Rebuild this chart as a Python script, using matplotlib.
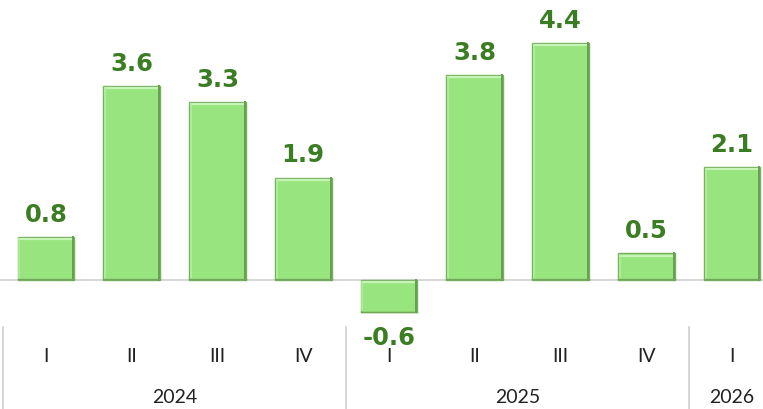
import matplotlib
matplotlib.use("Agg")
import matplotlib.pyplot as plt
from matplotlib.transforms import blended_transform_factory

quarters = ["I", "II", "III", "IV", "I", "II", "III", "IV", "I"]
years = ["2024", "2025", "2026"]
year_sizes = [4, 4, 1]
values = [0.8, 3.6, 3.3, 1.9, -0.6, 3.8, 4.4, 0.5, 2.1]

bar_color = "#98e57f"
edge_color = "#76b060"
label_color = "#3a7d22"

plt.rcParams["font.family"] = ["Lato", "DejaVu Sans"]

fig = plt.figure(figsize=(7.63, 4.10), dpi=100)
ax = fig.add_axes([0, 0, 1, 1])
ax.set_xlim(-0.535, 8.36)
ax.set_ylim(-2.39, 5.21)
ax.axis("off")

x = list(range(len(values)))
bars = ax.bar(x, values, width=0.66, color=bar_color, edgecolor=edge_color,
              linewidth=1.0, zorder=3)
# bevel: light top/left, darker right/bottom
for b in bars:
    x0, x1 = b.get_x(), b.get_x() + b.get_width()
    y0, y1 = sorted([b.get_y(), b.get_y() + b.get_height()])
    ax.plot([x0 + 0.02, x1 - 0.03], [y1 - 0.045, y1 - 0.045], color="#c6f4b6", lw=1.6, zorder=4)
    ax.plot([x0 + 0.02, x0 + 0.02], [y0 + 0.04, y1 - 0.04], color="#b4eea0", lw=1.2, zorder=4)
    ax.plot([x1 - 0.012, x1 - 0.012], [y0, y1], color="#64a04e", lw=1.4, zorder=4)
    ax.plot([x0, x1], [y0 + 0.012, y0 + 0.012], color="#6ea858", lw=1.0, zorder=4)

ax.axhline(0, color="#d0d0d0", lw=1.2, zorder=2)

for xi, v in zip(x, values):
    if v >= 0:
        ax.annotate(f"{v:.1f}", (xi, v), xytext=(0, 8), textcoords="offset points",
                    ha="center", va="bottom", fontsize=17.5, fontweight="bold",
                    color=label_color, family="DejaVu Sans")
    else:
        ax.annotate(f"{v:.1f}", (xi, v), xytext=(0, -9), textcoords="offset points",
                    ha="center", va="top", fontsize=17.5, fontweight="bold",
                    color=label_color, family="DejaVu Sans")

trans = blended_transform_factory(ax.transData, fig.transFigure)
for xi, q in zip(x, quarters):
    ax.text(xi, 1 - 357 / 410, q, transform=trans, ha="center", va="center",
            fontsize=14, color="#222222")

start = -0.5
ax.plot([start, start], [0, 1 - 328 / 410], transform=trans, color="#d0d0d0", lw=1.2)
for yr, n in zip(years, year_sizes):
    end = start + n
    ax.text(start + n / 2, 1 - 398 / 410, yr,
            transform=trans, ha="center", va="center", fontsize=14, color="#222222")
    if end < 8.36:
        ax.plot([end, end], [0, 1 - 328 / 410], transform=trans, color="#d0d0d0", lw=1.2)
    start = end

fig.savefig("out.png", dpi=100)
